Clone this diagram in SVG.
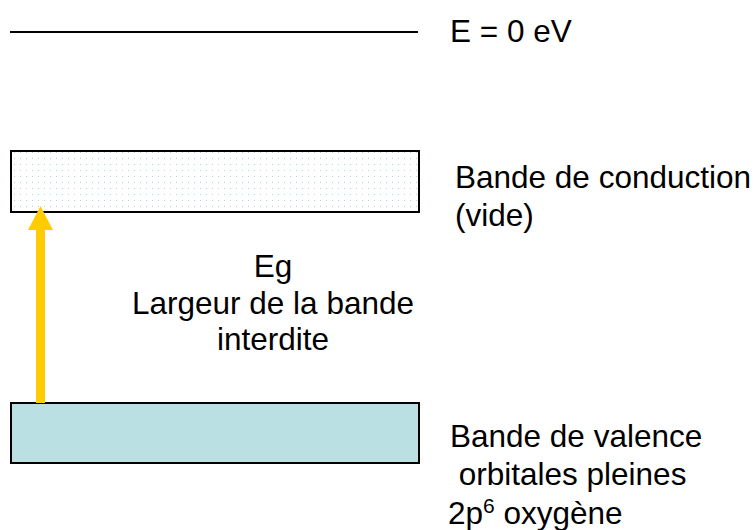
<svg xmlns="http://www.w3.org/2000/svg" width="756" height="530" viewBox="0 0 756 530">
<defs>
<pattern id="dots" x="0" y="0" width="6" height="6" patternUnits="userSpaceOnUse">
<rect width="6" height="6" fill="#ffffff"/>
<rect x="2" y="2" width="1" height="1" fill="#a8dcdc"/>
</pattern>
</defs>
<style>
text{font-family:"Liberation Sans",Arial,sans-serif;font-size:31.5px;fill:#000}
.band{stroke:#000;stroke-width:2}
</style>
<rect width="756" height="530" fill="#fff"/>
<g id="zero-level">
<line x1="10" y1="32" x2="418" y2="32" stroke="#000" stroke-width="2"/>
<text x="450" y="42">E = 0 eV</text>
</g>
<g id="conduction-band">
<rect class="band" x="11" y="151" width="408" height="61" fill="url(#dots)"/>
<text x="455" y="188">Bande de conduction</text>
<text x="455" y="226">(vide)</text>
</g>
<g id="valence-band">
<rect class="band" x="11" y="403" width="408" height="60" fill="#bbe0e3"/>
<text x="450" y="447">Bande de valence</text>
<text x="450" y="485" xml:space="preserve"> orbitales pleines</text>
<text x="448" y="524">2p<tspan dy="-11" font-size="21">6</tspan><tspan dy="11"> oxygène</tspan></text>
</g>
<g id="gap-label">
<text x="273" y="277" text-anchor="middle">Eg</text>
<text x="273" y="314" text-anchor="middle">Largeur de la bande</text>
<text x="273" y="350" text-anchor="middle">interdite</text>
</g>
<g id="connectors">
<line x1="40.5" y1="403" x2="40.5" y2="228" stroke="#ffcc00" stroke-width="9"/>
<polygon points="40.5,206 53,230 28,230" fill="#ffcc00"/>
</g>
</svg>
